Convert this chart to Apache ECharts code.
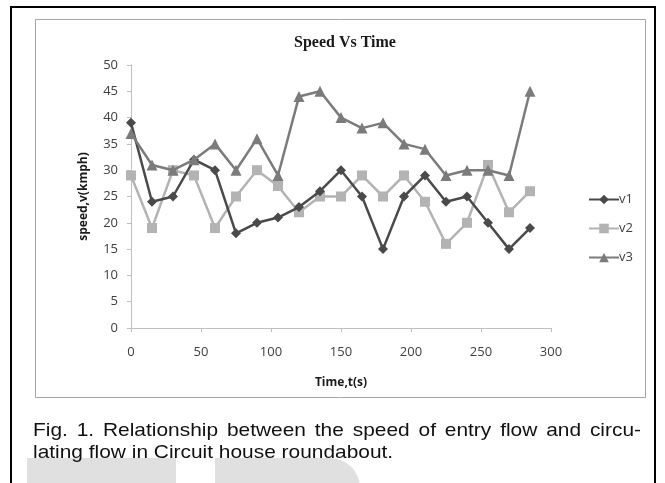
<!DOCTYPE html>
<html>
<head>
<meta charset="utf-8">
<script src="https://cdn.jsdelivr.net/npm/echarts@6/dist/echarts.min.js"></script>
<style>
html,body{margin:0;padding:0;background:#fff;}
#chart{width:665px;height:483px;}
</style>
</head>
<body>
<div id="chart"></div>
<script>
var times = [0,15,30,45,60,75,90,105,120,135,150,165,180,195,210,225,240,255,270,285];
var v1 = [39,24,25,32,30,18,20,21,23,26,30,25,15,25,29,24,25,20,15,19];
var v2 = [29,19,30,29,19,25,30,27,22,25,25,29,25,29,24,16,20,31,22,26];
var v3 = [37,31,30,32,35,30,36,29,44,45,40,38,39,35,34,29,30,30,29,45];
var seriesNames = ['v1','v2','v3'];
var titleText = 'Speed Vs Time';
var xName = 'Time,t(s)';
var yName = 'speed,v(kmph)';
var captionLines = [
  'Fig. 1. Relationship between the speed of entry flow and circu-',
  'lating flow in Circuit house roundabout.'
];

function pairs(vals){ return times.map(function(t,i){ return [t, vals[i]]; }); }

var chart = echarts.init(document.getElementById('chart'));

// caption layout (line 1 justified, line 2 left aligned)
var capFont = '19px "Liberation Sans", Arial, sans-serif';
var capScale = 1.1;
var ctx = document.createElement('canvas').getContext('2d');
ctx.font = capFont;
var capLeft = 33, capRight = 641;
var capGraphics = [];
captionLines.forEach(function(line, li){
  var y = 432 + li * 22;
  var words = line.split(' ');
  if (li === 0) {
    var total = 0;
    words.forEach(function(w){ total += ctx.measureText(w).width * capScale; });
    var gap = (capRight - capLeft - total) / (words.length - 1);
    var x = capLeft;
    words.forEach(function(w){
      capGraphics.push({type:'text', x:x, y:y-11, scaleX:capScale, silent:true,
        style:{text:w, font:capFont, fill:'#111', textVerticalAlign:'top'}});
      x += ctx.measureText(w).width * capScale + gap;
    });
  } else {
    capGraphics.push({type:'text', x:capLeft, y:y-11, scaleX:capScale, silent:true,
      style:{text:line, font:capFont, fill:'#111', textVerticalAlign:'top'}});
  }
});

var labelFont = {fontFamily:'"Open Sans", sans-serif', fontSize:13, color:'#404040'};
var axisColor = '#bfbfbf';

var option = {
  animation:false,
  backgroundColor:'#fff',
  title:{
    text:titleText, left:340, top:30, textAlign:'center',
    textStyle:{fontFamily:'"Liberation Serif", "Times New Roman", serif', fontWeight:'bold', fontSize:16, color:'#1a1a1a'}
  },
  grid:{left:131, right:114, top:65, bottom:155},
  legend:{
    orient:'vertical', left:583, top:188, itemWidth:30, itemHeight:12, itemGap:16,
    textStyle:{fontFamily:'"Open Sans", sans-serif', fontSize:13, color:'#404040', padding:[0,0,0,-5]},
    data:seriesNames
  },
  xAxis:{
    type:'value', min:0, max:300, interval:50,
    name:xName, nameLocation:'middle', nameGap:49,
    nameTextStyle:{fontFamily:'"Open Sans", sans-serif', fontSize:12, fontWeight:'bold', color:'#1a1a1a'},
    axisLine:{show:true, lineStyle:{color:axisColor, width:1}},
    axisTick:{show:true, length:4, lineStyle:{color:axisColor}},
    axisLabel:Object.assign({margin:18}, labelFont),
    splitLine:{show:false}
  },
  yAxis:{
    type:'value', min:0, max:50, interval:5,
    name:yName, nameLocation:'middle', nameGap:41, nameRotate:90,
    nameTextStyle:{fontFamily:'"Open Sans", sans-serif', fontSize:12, fontWeight:'bold', color:'#1a1a1a'},
    axisLine:{show:true, lineStyle:{color:axisColor, width:1}},
    axisTick:{show:true, length:4, lineStyle:{color:axisColor}},
    axisLabel:Object.assign({margin:13}, labelFont),
    splitLine:{show:false}
  },
  series:[
    {name:seriesNames[0], type:'line', data:pairs(v1), symbol:'diamond', symbolSize:10,
     lineStyle:{color:'#4a4a4a', width:2.5}, itemStyle:{color:'#4a4a4a'}, z:4},
    {name:seriesNames[1], type:'line', data:pairs(v2), symbol:'rect', symbolSize:10,
     lineStyle:{color:'#b3b3b3', width:2.5}, itemStyle:{color:'#b3b3b3'}, z:3},
    {name:seriesNames[2], type:'line', data:pairs(v3), symbol:'triangle', symbolSize:11,
     lineStyle:{color:'#7b7b7b', width:2.5}, itemStyle:{color:'#7b7b7b'}, z:5}
  ],
  graphic:[
    {type:'rect', silent:true, z:-10, shape:{x:27, y:458, width:149, height:30}, style:{fill:'#e0e0e0'}},
    {type:'rect', silent:true, z:-10, shape:{x:215, y:458, width:145, height:30, r:[0,40,0,0]}, style:{fill:'#e0e0e0'}},
    {type:'rect', silent:true, shape:{x:11, y:7, width:644, height:500}, style:{fill:'none', stroke:'#000', lineWidth:2}},
    {type:'rect', silent:true, shape:{x:35.5, y:19.5, width:610, height:378}, style:{fill:'none', stroke:'#a6a6a6', lineWidth:1}}
  ].concat(capGraphics)
};
chart.setOption(option);
</script>
</body>
</html>
